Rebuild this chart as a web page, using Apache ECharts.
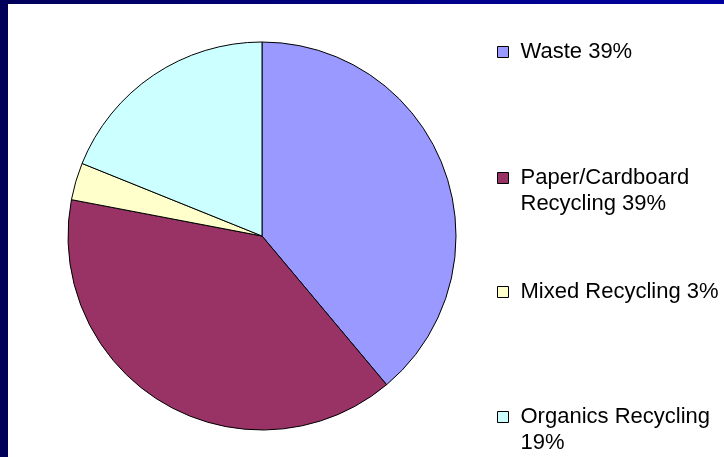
<!DOCTYPE html>
<html>
<head>
<meta charset="utf-8">
<script src="https://cdn.jsdelivr.net/npm/echarts@6/dist/echarts.min.js"></script>
<style>
    html, body { margin: 0; padding: 0; width: 724px; height: 457px; overflow: hidden; }
    body { background: linear-gradient(90deg, #00005a 0%, #000088 60%, #0000a0 100%); }
    #chart { position: absolute; left: 8px; top: 4px; width: 716px; height: 453px; background: #fff; }
</style>
</head>
<body>
<div id="chart"></div>
<script>
    const categories = ["Waste", "Paper/Cardboard Recycling", "Mixed Recycling", "Organics Recycling"];
    const shares = [38.9, 39.1, 3.1, 18.9];
    const colors = ["#9999ff", "#993366", "#ffffcc", "#ccffff"];

    const total = shares.reduce((a, b) => a + b, 0);
    const percentOf = name => Math.round(shares[categories.indexOf(name)] / total * 100);

    // one legend per item so each can sit where the original put it
    const legendTops = [35, 135, 275, 374];
    // wrapped items get a blank first line so the icon lines up with the first text line
    const legendWraps = [false, true, false, true];

    const legends = categories.map((name, i) => ({
        data: [name],
        left: 489,
        top: legendTops[i],
        padding: 0,
        itemWidth: 11,
        itemHeight: 11,
        icon: "rect",
        selectedMode: false,
        itemStyle: { borderColor: "#000", borderWidth: 1 },
        formatter: n => (legendWraps[i] ? "\n" : "") + `${n} ${percentOf(n)}%`,
        textStyle: {
            fontFamily: "Liberation Sans, Arial, sans-serif",
            fontSize: 22,
            lineHeight: 26,
            color: "#000",
            width: 205,
            overflow: "break",
            padding: [0, 0, 0, 7]
        }
    }));

    const chart = echarts.init(document.getElementById("chart"), null, { renderer: "canvas" });
    chart.setOption({
        animation: false,
        legend: legends,
        series: [
            {
                type: "pie",
                center: [254, 232],
                radius: 194,
                startAngle: 90,
                clockwise: true,
                label: { show: false },
                labelLine: { show: false },
                emphasis: { disabled: true },
                itemStyle: { borderColor: "#000", borderWidth: 1 },
                data: categories.map((name, i) => ({
                    name,
                    value: shares[i],
                    itemStyle: { color: colors[i] }
                }))
            }
        ]
    });
</script>
</body>
</html>
